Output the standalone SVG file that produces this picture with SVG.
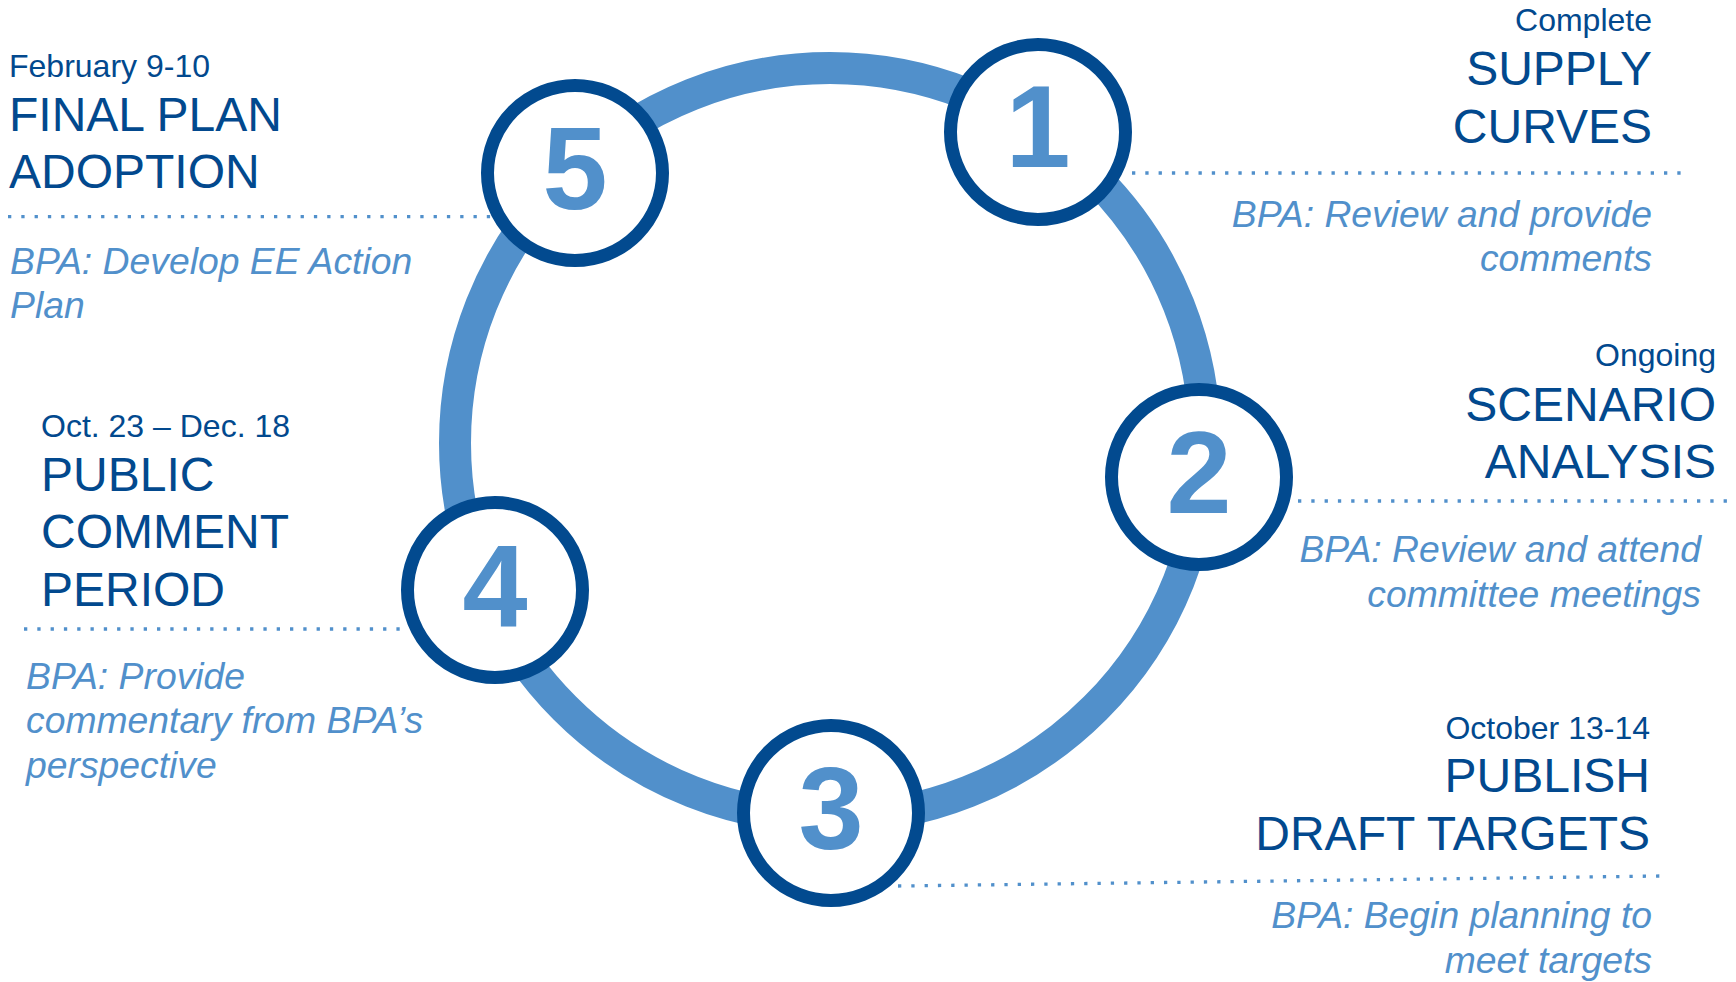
<svg xmlns="http://www.w3.org/2000/svg" width="1736" height="982" viewBox="0 0 1736 982">
<style>
.ring{fill:none;stroke:#5190CB;stroke-width:32}
.node{fill:#fff;stroke:#024A8F;stroke-width:13}
.num{font-family:"Liberation Sans",Arial,sans-serif;font-weight:bold;font-size:117px;fill:#5190CB;text-anchor:middle}
.date{font-family:"Liberation Sans",Arial,sans-serif;font-size:32px;fill:#02498E}
.title{font-family:"Liberation Sans",Arial,sans-serif;font-size:48px;fill:#02498E}
.note{font-family:"Liberation Sans",Arial,sans-serif;font-style:italic;font-size:37.3px;fill:#5190CB}
.dots{fill:none;stroke:#5190CB;stroke-width:3.3;stroke-dasharray:3.3 10}
.end{text-anchor:end}
</style>
<rect width="1736" height="982" fill="#fff"/>
<g id="connectors">
<circle class="ring" cx="830" cy="443" r="375"/>
<line class="dots" x1="8" y1="216.7" x2="491" y2="216.7"/>
<line class="dots" x1="1132" y1="173" x2="1684" y2="173"/>
<line class="dots" x1="1298" y1="501" x2="1728" y2="501"/>
<line class="dots" x1="898" y1="886" x2="1660" y2="876"/>
<line class="dots" x1="24" y1="629" x2="402" y2="629"/>
</g>
<g id="node1">
<circle class="node" cx="1038" cy="132" r="87.5"/>
<text class="num" x="1038" y="167">1</text>
<text class="date end" x="1652" y="31">Complete</text>
<text class="title end" x="1652" y="85">SUPPLY</text>
<text class="title end" x="1652" y="143">CURVES</text>
<text class="note end" x="1652" y="227">BPA: Review and provide</text>
<text class="note end" x="1652" y="271">comments</text>
</g>
<g id="node2">
<circle class="node" cx="1199" cy="477" r="87.5"/>
<text class="num" x="1199" y="513">2</text>
<text class="date end" x="1716" y="366">Ongoing</text>
<text class="title end" x="1716" y="421">SCENARIO</text>
<text class="title end" x="1716" y="478">ANALYSIS</text>
<text class="note end" x="1701" y="562">BPA: Review and attend</text>
<text class="note end" x="1701" y="607">committee meetings</text>
</g>
<g id="node3">
<circle class="node" cx="831" cy="813" r="87.5"/>
<text class="num" x="831" y="849">3</text>
<text class="date end" x="1650" y="739">October 13-14</text>
<text class="title end" x="1650" y="792">PUBLISH</text>
<text class="title end" x="1650" y="850">DRAFT TARGETS</text>
<text class="note end" x="1652" y="928">BPA: Begin planning to</text>
<text class="note end" x="1652" y="973">meet targets</text>
</g>
<g id="node4">
<circle class="node" cx="495" cy="590" r="87.5"/>
<text class="num" x="495" y="626">4</text>
<text class="date" x="41" y="437">Oct. 23 – Dec. 18</text>
<text class="title" x="41" y="491">PUBLIC</text>
<text class="title" x="41" y="548">COMMENT</text>
<text class="title" x="41" y="606">PERIOD</text>
<text class="note" x="26" y="689">BPA: Provide</text>
<text class="note" x="26" y="733">commentary from BPA’s</text>
<text class="note" x="26" y="778">perspective</text>
</g>
<g id="node5">
<circle class="node" cx="575" cy="173" r="87.5"/>
<text class="num" x="575" y="209">5</text>
<text class="date" x="9" y="77">February 9-10</text>
<text class="title" x="9" y="131">FINAL PLAN</text>
<text class="title" x="9" y="188">ADOPTION</text>
<text class="note" x="10" y="274">BPA: Develop EE Action</text>
<text class="note" x="10" y="318">Plan</text>
</g>
</svg>
